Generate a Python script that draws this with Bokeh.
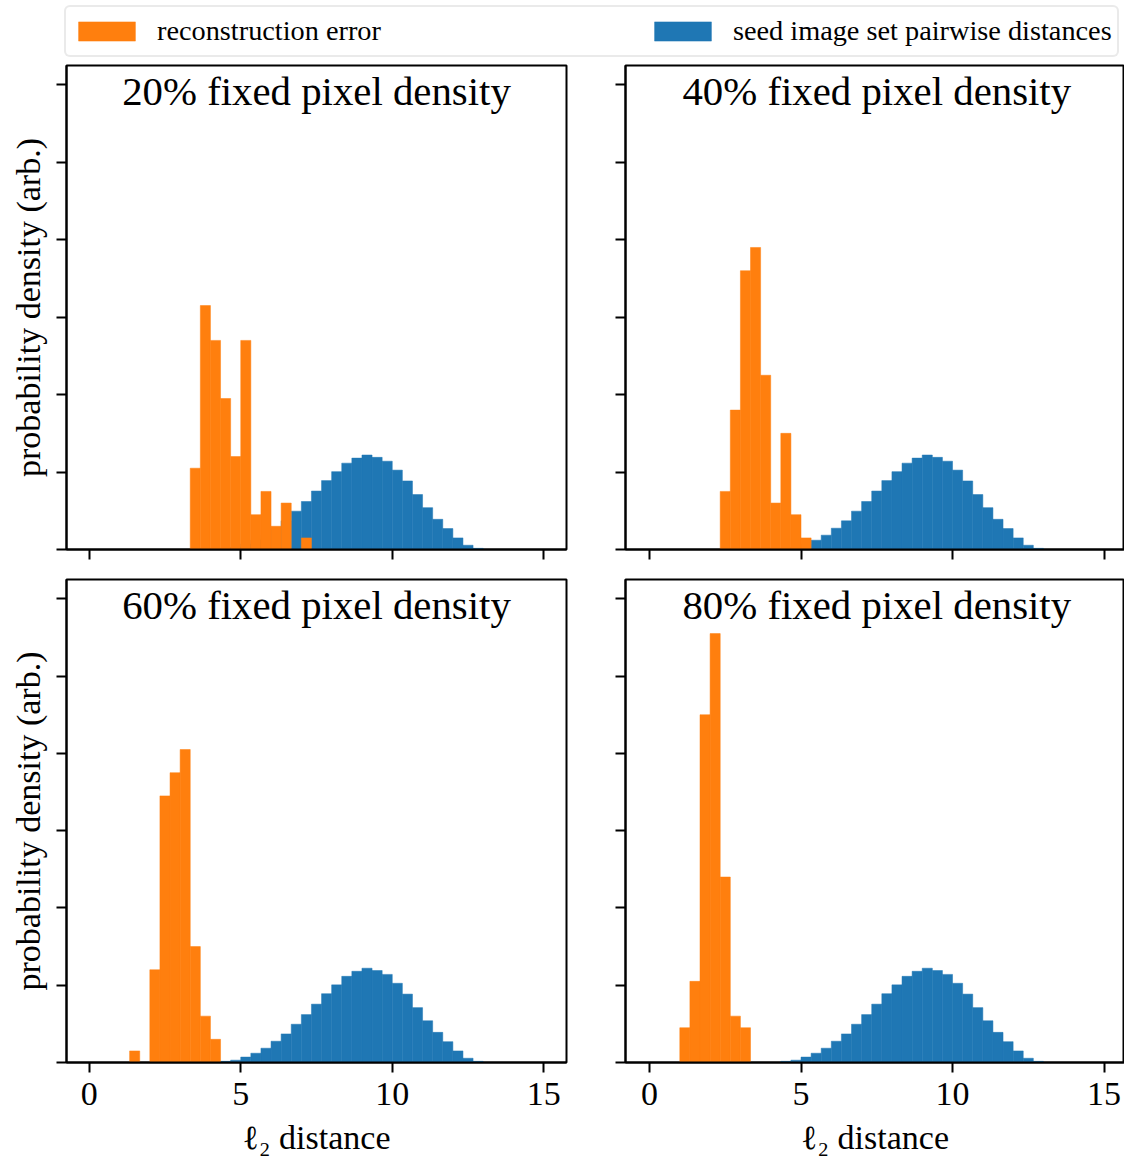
import numpy as np
from bokeh.plotting import figure
from bokeh.models import Range1d, FixedTicker, Label, Legend, LegendItem
from bokeh.layouts import column, row
from bokeh.embed import file_html
from bokeh.resources import INLINE

# ---------------- data ----------------
# histogram grid used by all panels: 45 equal bins over [0, 15]
BIN_EDGES = np.linspace(0.0, 15.0, 46)
BIN_WIDTH = BIN_EDGES[1] - BIN_EDGES[0]

panel_titles = ["20% fixed pixel density", "40% fixed pixel density",
                "60% fixed pixel density", "80% fixed pixel density"]

# reconstruction error: counts per bin (100 samples), starting at bin index *_first
N_SAMPLES = 100
recon_20_counts = [7, 21, 18, 13, 8, 18, 3, 5, 2, 4, 0, 1]
recon_20_first = 10
recon_40_counts = [5, 12, 24, 26, 15, 4, 10, 3, 1]
recon_40_first = 7
recon_60_counts = [1, 0, 8, 23, 25, 27, 10, 4, 2]
recon_60_first = 4
recon_80_counts = [3, 7, 30, 37, 16, 4, 3]
recon_80_first = 3

# seed image set pairwise distances: probability density per bin, starting at bin index 13
seed_density = [0.003, 0.006, 0.014, 0.024, 0.037, 0.055, 0.074, 0.099, 0.124,
                0.151, 0.178, 0.201, 0.223, 0.236, 0.244, 0.238, 0.228, 0.205,
                0.177, 0.142, 0.108, 0.078, 0.054, 0.030, 0.011, 0.003]
seed_first = 13

x_ticks = [0, 5, 10, 15]
y_ticks = [0, 0.2, 0.4, 0.6, 0.8, 1.0, 1.2]

legend_labels = ["reconstruction error", "seed image set pairwise distances"]
x_label = "ℓ₂ distance"
y_label = "probability density (arb.)"

# ---------------- style ----------------
FONT = "Liberation Serif"
ORANGE = "#ff7f0e"
BLUE = "#1f77b4"


def seed_quads(p):
    n = len(seed_density)
    return p.quad(left=BIN_EDGES[seed_first:seed_first + n],
                  right=BIN_EDGES[seed_first + 1:seed_first + n + 1],
                  top=seed_density, bottom=0,
                  fill_color=BLUE, line_color=BLUE, line_width=0.5)


def recon_quads(p, counts, first):
    m = len(counts)
    dens = np.array(counts, dtype=float) / (N_SAMPLES * BIN_WIDTH)
    return p.quad(left=BIN_EDGES[first:first + m],
                  right=BIN_EDGES[first + 1:first + m + 1],
                  top=dens, bottom=0,
                  fill_color=ORANGE, line_color=ORANGE, line_width=0.5)


def style_axis(ax):
    ax.axis_line_color = "black"
    ax.axis_line_width = 2
    ax.major_tick_line_color = "black"
    ax.major_tick_line_width = 2
    ax.major_tick_out = 10
    ax.major_tick_in = 0
    ax.minor_tick_out = 0
    ax.minor_tick_in = 0
    ax.major_label_text_font = FONT
    ax.major_label_text_color = "black"
    ax.axis_label_text_font = FONT
    ax.axis_label_text_font_style = "normal"
    ax.axis_label_text_color = "black"
    ax.axis_label_text_font_size = "34px"


def hide_labels(ax):
    ax.major_label_text_font_size = "0px"
    ax.major_label_text_color = None
    ax.major_label_standoff = 0


def make_panel(title, counts, first, left_col, bottom_row):
    if left_col:
        x_range = Range1d(-0.75, 15.75)
        mbl, mbr, fw = 66, 4, 500
    else:
        x_range = Range1d(-0.792, 15.675)
        mbl, mbr, fw = 55, 0, 499
    width = mbl + fw + mbr
    mbt = 2
    mbb = 95 if bottom_row else 28
    height = mbt + 484 + mbb
    p = figure(width=width, height=height, x_range=x_range, y_range=Range1d(0, 1.25),
               output_backend="svg", toolbar_location=None, title=None,
               min_border_left=mbl, min_border_right=mbr,
               min_border_top=mbt, min_border_bottom=mbb)
    p.grid.visible = False
    p.outline_line_color = "black"
    p.outline_line_width = 2
    p.background_fill_color = "white"
    p.border_fill_color = "white"

    seed_quads(p)                  # seed image set histogram (drawn first)
    recon_quads(p, counts, first)  # reconstruction error on top

    for ax in (p.xaxis[0], p.yaxis[0]):
        style_axis(ax)
    p.xaxis.ticker = FixedTicker(ticks=x_ticks, minor_ticks=[])
    p.yaxis.ticker = FixedTicker(ticks=y_ticks, minor_ticks=[])

    hide_labels(p.yaxis[0])
    if left_col:
        p.yaxis.axis_label = y_label
        p.yaxis.axis_label_standoff = 10

    if bottom_row:
        p.xaxis.major_label_text_font_size = "34px"
        p.xaxis.major_label_standoff = 10
        p.xaxis.axis_label = x_label
        p.xaxis.axis_label_standoff = 11
    else:
        hide_labels(p.xaxis[0])

    p.add_layout(Label(x=7.5, y=1.182, text=title, text_align="center",
                       text_baseline="alphabetic", text_font=FONT,
                       text_font_size="40.8px", text_color="black"))
    return p


tl = make_panel(panel_titles[0], recon_20_counts, recon_20_first, True, False)
tr = make_panel(panel_titles[1], recon_40_counts, recon_40_first, False, False)
bl = make_panel(panel_titles[2], recon_60_counts, recon_60_first, True, True)
br = make_panel(panel_titles[3], recon_80_counts, recon_80_first, False, True)

# ---------------- legend strip ----------------
# the histograms are repeated here outside the visible range so the legend has real glyphs
leg = figure(width=1124, height=63, x_range=Range1d(-100, -99), y_range=Range1d(0, 1),
             output_backend="svg", toolbar_location=None, title=None,
             min_border=0, x_axis_type=None, y_axis_type=None)
leg.outline_line_color = None
r1 = recon_quads(leg, recon_20_counts, recon_20_first)
r2 = seed_quads(leg)
legend = Legend(items=[LegendItem(label=legend_labels[0], renderers=[r1]),
                       LegendItem(label=legend_labels[1], renderers=[r2])],
                orientation="horizontal", location=(64, 6), margin=0,
                padding=5, spacing=266, glyph_width=71, glyph_height=24,
                label_standoff=15, label_height=38,
                label_text_font=FONT, label_text_font_size="28.3px",
                label_text_color="black",
                border_line_color="#d5d5d5", border_line_width=2,
                border_radius=6,
                background_fill_color="white", background_fill_alpha=1.0)
leg.add_layout(legend, "center")

layout = column(leg, row(tl, tr), row(bl, br))

open("out.html", "w").write(file_html(layout, INLINE, "histograms"))
